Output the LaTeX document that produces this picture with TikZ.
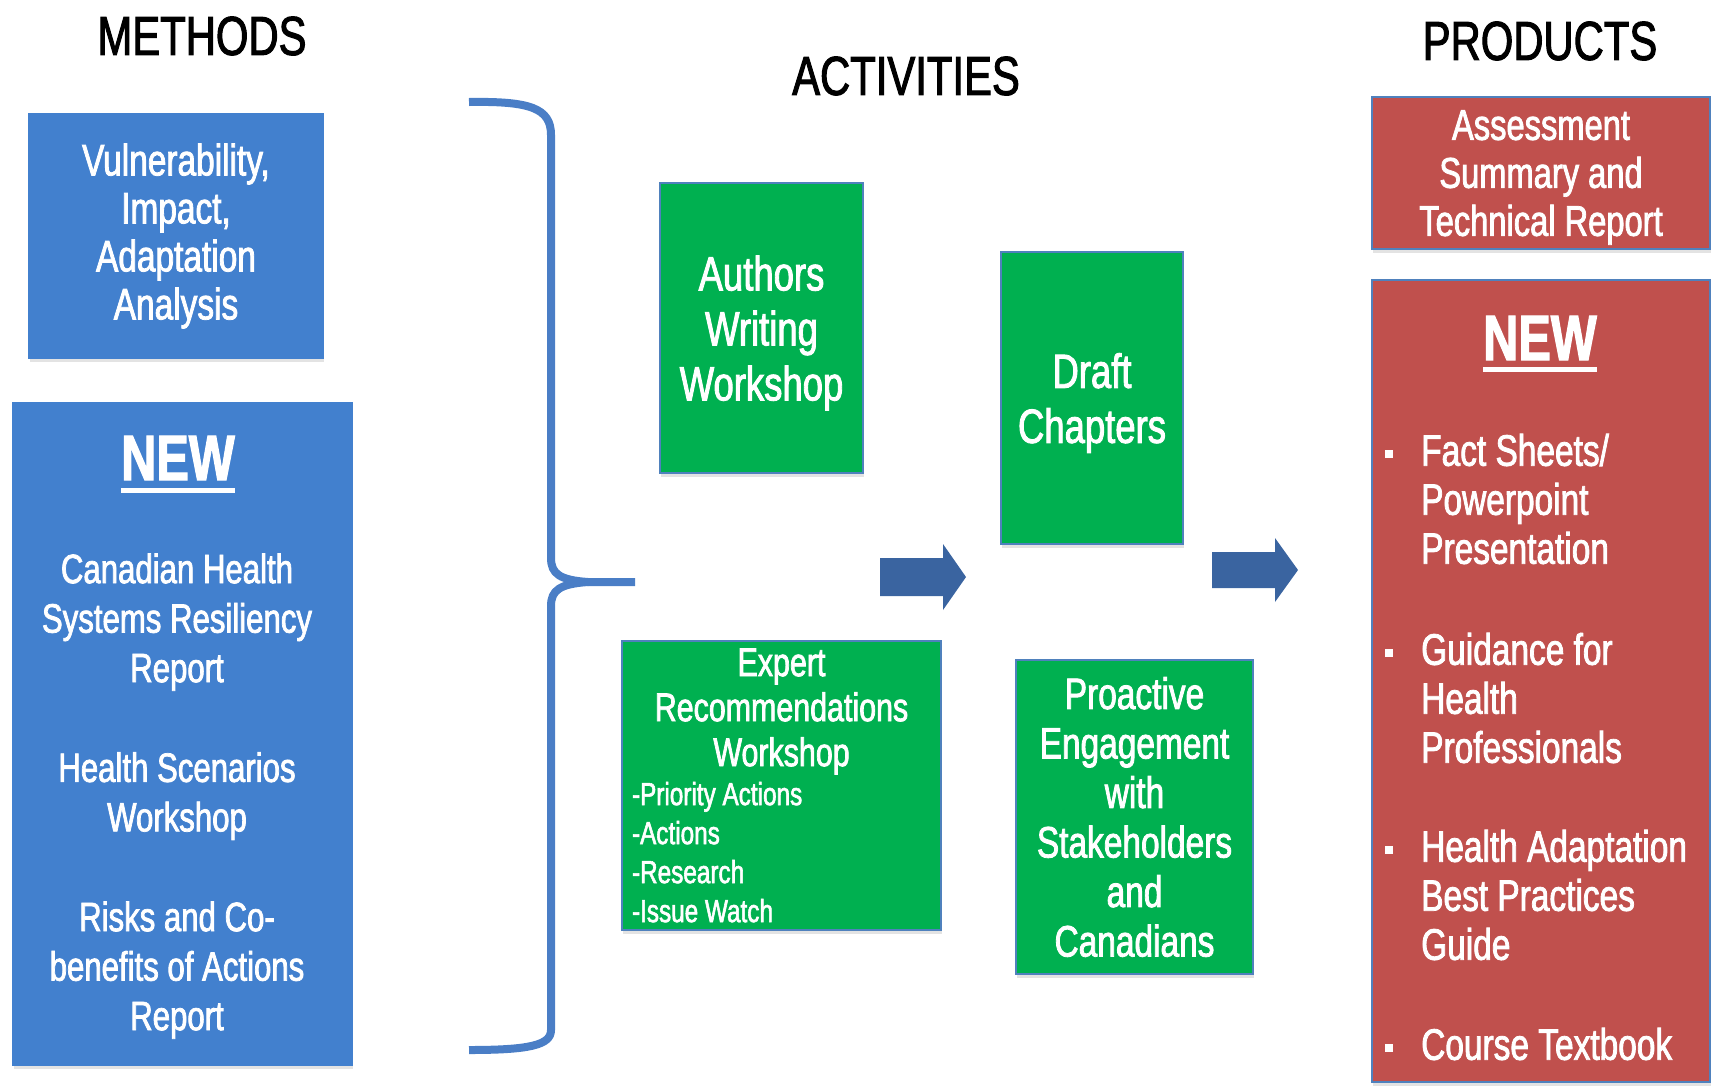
\documentclass[tikz,border=0pt]{standalone}
\usepackage{fontspec}
\setmainfont{Liberation Sans}[FakeStretch=0.76, FakeBold=1.8]
\usetikzlibrary{positioning,shadows}

\definecolor{methodblue}{RGB}{66,128,206}
\definecolor{edgeblue}{RGB}{79,129,189}
\definecolor{actgreen}{RGB}{0,176,80}
\definecolor{prodred}{RGB}{192,80,77}
\definecolor{braceblue}{RGB}{74,126,198}
\definecolor{arrowblue}{RGB}{58,100,160}

% small square bullet hung left of a list line
\newcommand{\sqbullet}{\llap{\rule[7.5pt]{8pt}{8pt}\hspace{28pt}}}

\begin{document}
\begin{tikzpicture}[x=1pt, y=-1pt,
	every node/.style={text=white},
	tile/.style={draw=edgeblue, line width=1.5pt, align=center, inner sep=0pt,
		drop shadow={shadow xshift=1pt, shadow yshift=-4pt, opacity=.22}},
	methodtile/.style={tile, fill=methodblue, draw=methodblue},
	acttile/.style={tile, fill=actgreen},
	prodtile/.style={tile, fill=prodred},
	heading/.style={text=black, font=\fontsize{55}{60}\selectfont},
	newmark/.style={font=\bfseries\fontsize{64}{70}\selectfont, inner sep=0pt},
	under/.style={white, line width=5pt},
	item/.style={align=center, inner sep=0pt, font=\fontsize{41}{49.5}\selectfont},
	listitem/.style={anchor=west, align=left, inner sep=0pt, font=\fontsize{44}{49}\selectfont},
	brace/.style={braceblue, line width=8pt},
	fatarrow/.style={fill=arrowblue}]
	\useasboundingbox (0,0) rectangle (1712,1085);

	% column headings
	\node[heading] (methods) at (202,36) {METHODS};
	\node[heading] (activities) at (906,76) {ACTIVITIES};
	\node[heading] (products) at (1540,41) {PRODUCTS};

	% methods
	\node[methodtile, minimum width=294pt, minimum height=244pt, font=\fontsize{44}{48}\selectfont] (vuln) at (176,236) {Vulnerability,\\Impact,\\Adaptation\\Analysis};
	\node[methodtile, minimum width=339pt, minimum height=662pt] (newmeth) at (182.5,734) {};
	\node[newmark] (newmhead) at (178,458) {NEW};
	\draw[under] ([yshift=-10pt]newmhead.base west) -- ([yshift=-10pt]newmhead.base east);
	\node[item] (resil) at (177,622) {Canadian Health\\Systems Resiliency\\Report};
	\node[item] (scen) at (177,796) {Health Scenarios\\Workshop};
	\node[item] (risks) at (177,970) {Risks and Co-\\benefits of Actions\\Report};

	% brace gathering the methods
	\draw[brace] (469,102) .. controls (530,101) and (551,108) .. (551,135) -- (551,558)
		.. controls (551,574) and (560,580) .. (588,582) -- (635,582);
	\draw[brace] (588,582) .. controls (560,584) and (551,590) .. (551,606) -- (551,1030)
		.. controls (551,1045) and (530,1050) .. (469,1050);

	% activities
	\node[acttile, minimum width=203pt, minimum height=290pt, text depth=0pt, font=\fontsize{48}{55}\selectfont] (authors) at (761.5,328) {Authors\\Writing\\Workshop};
	\node[acttile, minimum width=182pt, minimum height=292pt, text depth=0pt, font=\fontsize{48}{55}\selectfont] (draft) at (1092,398) {Draft\\Chapters};
	\node[acttile, minimum width=319pt, minimum height=289pt, text width=299pt, align=left, font=\fontsize{40}{45}\selectfont] (expert) at (781.5,785.5)
		{{\centering Expert\\Recommendations\\Workshop\par}{\fontsize{32}{39}\selectfont\spaceskip=0pt\xspaceskip=0pt -Priority Actions\\-Actions\\-Research\\-Issue Watch\par}};
	\node[acttile, minimum width=237pt, minimum height=314pt, font=\fontsize{44}{49.5}\selectfont] (engage) at (1134.5,817) {Proactive\\Engagement\\with\\Stakeholders\\and\\Canadians};

	% block arrows
	\fill[fatarrow] (880,558) -- ++(63,0) -- ++(0,-14) -- ++(23,33) -- ++(-23,33) -- ++(0,-14) -- ++(-63,0) -- cycle;
	\fill[fatarrow] (1212,552) -- ++(63,0) -- ++(0,-14) -- ++(23,32) -- ++(-23,32) -- ++(0,-14) -- ++(-63,0) -- cycle;

	% products
	\node[prodtile, minimum width=338pt, minimum height=152pt, text depth=0pt, font=\fontsize{43}{48}\selectfont] (assess) at (1541,173) {Assessment\\Summary and\\Technical Report};
	\node[prodtile, minimum width=338pt, minimum height=802pt] (newprod) at (1541,681) {};
	\node[newmark] (newphead) at (1540,338) {NEW};
	\draw[under] ([yshift=-9pt]newphead.base west) -- ([yshift=-9pt]newphead.base east);
	\node[listitem] (facts) at (1421,499) {\sqbullet Fact Sheets/\\Powerpoint\\Presentation};
	\node[listitem] (guide) at (1421,698) {\sqbullet Guidance for\\Health\\Professionals};
	\node[listitem] (best) at (1421,895) {\sqbullet Health Adaptation\\Best Practices\\Guide};
	\node[listitem] (course) at (1421,1044) {\sqbullet Course Textbook};
\end{tikzpicture}
\end{document}
